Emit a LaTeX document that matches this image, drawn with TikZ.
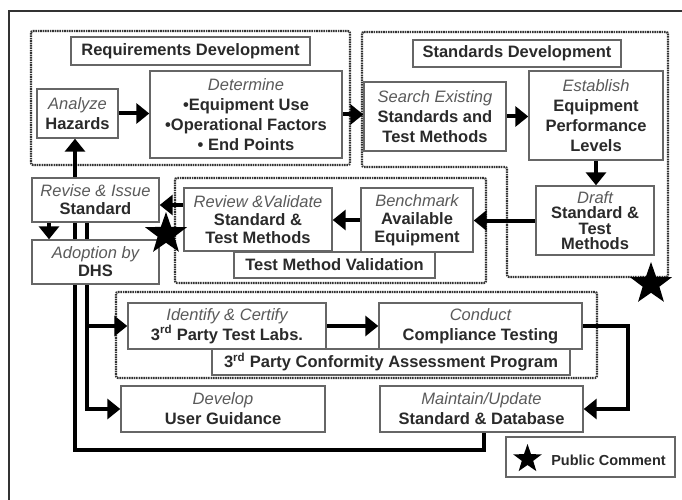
\documentclass[tikz,border=0pt]{standalone}
\usepackage{fontspec}
\setmainfont{Liberation Sans}
\usetikzlibrary{arrows.meta,shapes.geometric}
\definecolor{boxline}{HTML}{666666}
\definecolor{txtdark}{HTML}{2A2A2A}
\definecolor{txtlight}{HTML}{5A5A5A}
\definecolor{dotc}{HTML}{333333}
\pgfdeclarelayer{bg}
\pgfsetlayers{bg,main}
\newcommand\ital[1]{{\mdseries\itshape\color{txtlight}#1}}
\begin{document}
\begin{tikzpicture}[x=1pt,y=-1pt,
 box/.style={draw=boxline, line width=1.4pt, fill=white, align=center, inner sep=0pt, text=txtdark, font=\fontsize{16.5}{20}\selectfont\bfseries},
 tight/.style={font=\fontsize{16.5}{18}\selectfont\bfseries},
 grp/.style={draw=dotc, line width=2.2pt, dash pattern=on 1.6pt off 0.8pt, rounded corners=2pt},
 arr/.style={line width=4pt, -{Triangle[length=13pt,width=20pt]}},
 starnode/.style={star, star points=5, star point ratio=2.5, fill=black, inner sep=0pt, draw=none}
]
\useasboundingbox (0,0) rectangle (682,500);
\draw[line width=1.5pt, draw=dotc] (9,500) -- (9,11) -- (682,11);

% nodes
\node[box, minimum width=239pt, minimum height=28pt] (reqT) at (190.5,51) {Requirements Development};
\node[box, minimum width=81pt, minimum height=49pt] (analyze) at (77.5,113.5) {\ital{Analyze}\\Hazards};
\node[box, minimum width=192pt, minimum height=87pt] (determine) at (246,114.5) {\ital{Determine}\\•Equipment Use\\•Operational Factors\\• End Points};
\node[box, minimum width=208pt, minimum height=27pt] (stdT) at (517,53.5) {Standards Development};
\node[box, minimum width=142pt, minimum height=69pt] (search) at (435,116.5) {\ital{Search Existing}\\Standards and\\Test Methods};
\node[box, minimum width=134pt, minimum height=89pt] (establish) at (596,115.5) {\ital{Establish}\\Equipment\\Performance\\Levels};
\node[box, minimum width=118pt, minimum height=69pt, font=\fontsize{16.5}{15.5}\selectfont\bfseries] (draft) at (595,220.5) {\ital{Draft}\\Standard \&\\Test\\Methods};
\node[box, tight, minimum width=112pt, minimum height=64pt] (benchmark) at (417,220) {\ital{Benchmark}\\Available\\Equipment};
\node[box, tight, minimum width=148pt, minimum height=63pt] (review) at (258,219.5) {\ital{Review \&Validate}\\Standard \&\\Test Methods};
\node[box, minimum width=201pt, minimum height=26pt] (tmvT) at (334.5,265) {Test Method Validation};
\node[box, tight, minimum width=127pt, minimum height=44pt] (revise) at (95.5,200) {\ital{Revise \& Issue}\\Standard};
\node[box, tight, minimum width=127pt, minimum height=44pt] (adopt) at (95.5,262) {\ital{Adoption by}\\DHS};
\node[box, minimum width=198pt, minimum height=46pt] (identify) at (227,326) {\ital{Identify \& Certify}\\3\textsuperscript{rd} Party Test Labs.};
\node[box, minimum width=203pt, minimum height=46pt] (conduct) at (480.5,326) {\ital{Conduct}\\Compliance Testing};
\node[box, minimum width=358pt, minimum height=26pt] (cpT) at (391,362) {3\textsuperscript{rd} Party Conformity Assessment Program};
\node[box, minimum width=204pt, minimum height=46pt] (develop) at (223,409) {\ital{Develop}\\User Guidance};
\node[box, minimum width=203pt, minimum height=46pt] (maintain) at (481.5,409) {\ital{Maintain/Update}\\Standard \& Database};
\node[box, minimum width=169pt, minimum height=40pt] (public) at (590.5,457) {};
\node[text=txtdark, font=\fontsize{14.5}{17}\selectfont\bfseries, inner sep=0pt] (pclabel) at (608.5,460) {Public Comment};

% stars
\node[starnode, minimum size=44pt] (star1) at (166,234) {};
\node[starnode, minimum size=44pt] (star2) at (651,284) {};
\node[starnode, minimum size=30pt] (star3) at (527.5,459) {};

\begin{pgfonlayer}{bg}
\draw[grp] (31,31) rectangle (350,165);
\draw[grp] (362,32) -- (668,32) -- (668,277) -- (507,277) -- (507,167) -- (362,167) -- cycle;
\draw[grp] (175,178) rectangle (486,283);
\draw[grp] (116,292) rectangle (597,378);

\draw[arr] (analyze.east) -- (analyze.east -| determine.west);
\draw[arr] (determine.east) -- (determine.east -| search.west);
\draw[arr] (search.east) -- (search.east -| establish.west);
\draw[arr] (establish.south) -- (establish.south |- draft.north);
\draw[arr] (draft.west) -- (draft.west -| benchmark.east);
\draw[arr] (benchmark.west) -- (benchmark.west -| review.east);
\coordinate (rv) at ([yshift=-5pt]revise.east);
\draw[arr] (rv -| review.west) -- (rv);
\draw[arr] ([xshift=-46.5pt]revise.south) -- ([xshift=-46.5pt]adopt.north);
\coordinate (loop) at (75,450);
\draw[arr] ([xshift=2.5pt]maintain.south) |- (loop) -- (loop |- analyze.south);
\draw[arr] ([xshift=-8.5pt]revise.south) |- (identify.west);
\draw[arr] ([xshift=-8.5pt]revise.south) |- (develop.west);
\draw[arr] (identify.east) -- (conduct.west);
\draw[arr] (conduct.east) -- ++(45pt,0) |- (maintain.east);
\end{pgfonlayer}
\end{tikzpicture}
\end{document}
